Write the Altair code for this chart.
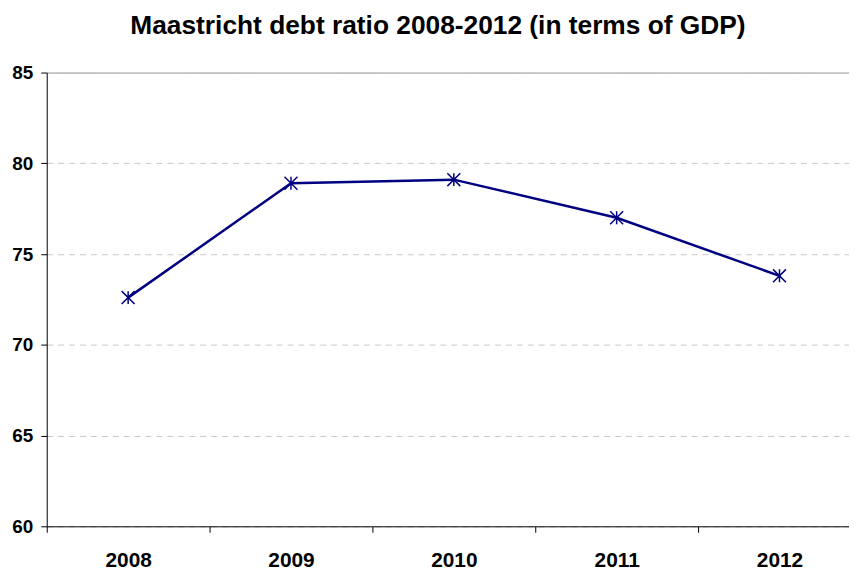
import altair as alt
import pandas as pd

years = ["2008", "2009", "2010", "2011", "2012"]
debt = [72.6, 78.9, 79.1, 77.0, 73.8]
y_ticks = [60, 65, 70, 75, 80, 85]
title_text = "Maastricht debt ratio 2008-2012 (in terms of GDP)"

df = pd.DataFrame({"year": years, "debt": debt})

FONT = "Liberation Sans"
NAVY = "#000080"

x_enc = alt.X(
    "year:O",
    sort=years,
    bandPosition=0.5,
    scale=alt.Scale(type="band", range=[0, 820], paddingInner=0, paddingOuter=0),
    axis=alt.Axis(
        title=None,
        labelAngle=0,
        labelFont=FONT,
        labelFontWeight="bold",
        labelFontSize=21,
        labelColor="black",
        labelPadding=17,
        tickBand="extent",
        tickSize=6,
        tickColor="black",
        domainColor="black",
        domainWidth=1,
        grid=False,
    ),
)

y_enc = alt.Y(
    "debt:Q",
    scale=alt.Scale(domain=[60, 85], nice=False, zero=False),
    axis=alt.Axis(
        title=None,
        values=y_ticks,
        labelFont=FONT,
        labelFontWeight="bold",
        labelFontSize=19,
        labelColor="black",
        labelPadding=8,
        tickSize=6,
        tickColor="black",
        domainColor="black",
        domainWidth=1,
        grid=True,
        gridColor={"condition": {"test": "datum.value >= 85", "value": "#888888"}, "value": "#c8c8c8"},
        gridDash={"condition": {"test": "datum.value >= 85", "value": [1, 0]}, "value": [6, 5]},
        gridWidth=1,
    ),
)

base = alt.Chart(df)

line = base.mark_line(color=NAVY, strokeWidth=2.5).encode(x=x_enc, y=y_enc)

points = base.mark_point(
    shape="M-1,-1L1,1M-1,1L1,-1M0,-1L0,1",
    size=170,
    filled=False,
    color=NAVY,
    strokeWidth=1.5,
    opacity=1,
).encode(x=x_enc, y=y_enc)

chart = (
    alt.layer(line, points)
    .properties(
        width=808,
        height=457,
        autosize=alt.AutoSizeParams(type="none"),
        padding={"left": 39, "top": 63, "right": 0, "bottom": 43},
        title=alt.TitleParams(
            text=title_text,
            font=FONT,
            fontSize=26.5,
            fontWeight="bold",
            color="black",
            anchor="middle",
            frame="group",
            dx=-10,
            dy=-20,
        ),
    )
    .configure_view(stroke=None)
)

chart.save("out.html", embed_options={"renderer": "svg", "actions": False})
